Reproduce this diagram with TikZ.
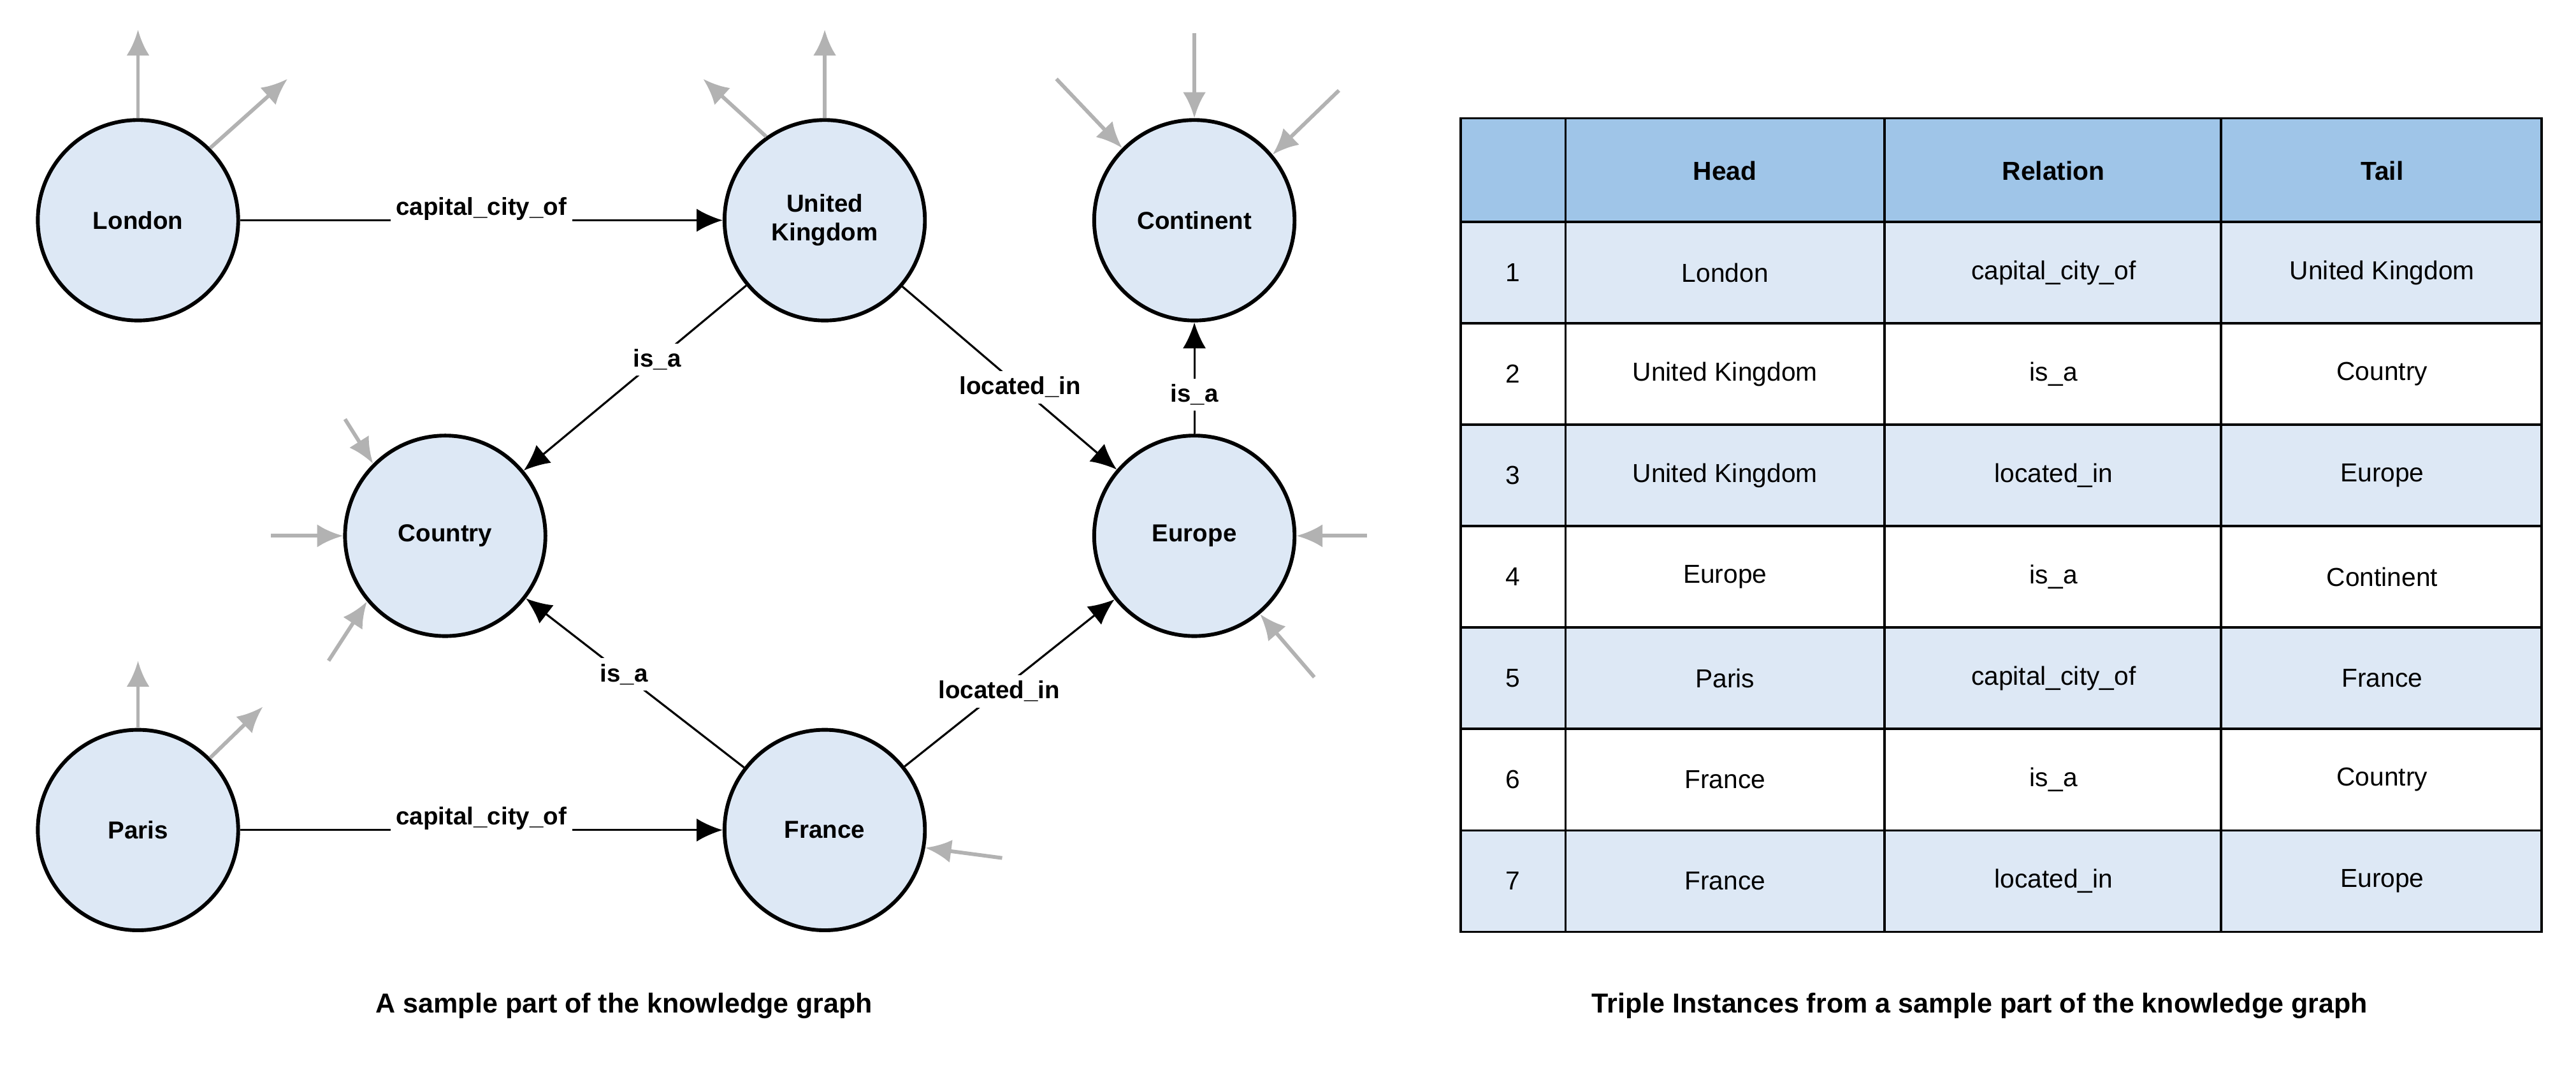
\documentclass[tikz,border=0pt]{standalone}
\usepackage{fontspec}
\setmainfont{Liberation Sans}
\usetikzlibrary{arrows.meta}
\definecolor{nodefill}{HTML}{DDE8F5}
\definecolor{hdr}{HTML}{9FC5E8}
\definecolor{rowa}{HTML}{DDE8F5}
\begin{document}
\begin{tikzpicture}[x=0.02cm,y=-0.02cm,
  ent/.style={circle,draw,line width=1.3pt,fill=nodefill,minimum size=2.44cm,inner sep=0pt,font=\bfseries\fontsize{8.5}{10}\selectfont,align=center},
  rel/.style={draw,line width=0.7pt,-{Latex[length=9pt,width=8pt]}},
  lab/.style={fill=white,inner sep=2pt,font=\bfseries\fontsize{8.5}{10}\selectfont},
  stub/.style={draw=gray!60,line width=1.3pt,-{Latex[length=9pt,width=8pt]},gray!60},
  cell/.style={font=\fontsize{9}{11}\selectfont}]
\useasboundingbox (0,0) rectangle (1568,654);
\node[ent] (lon) at (84,134) {London};
\node[ent] (uk) at (502,134) {United\\Kingdom};
\node[ent] (con) at (727,134) {Continent};
\node[ent] (cty) at (271,326) {Country};
\node[ent] (eur) at (727,326) {Europe};
\node[ent] (par) at (84,505) {Paris};
\node[ent] (fra) at (502,505) {France};
\draw[rel] (lon) -- node[lab,yshift=4pt]{capital\_city\_of} (uk);
\draw[rel] (par) -- node[lab,yshift=4pt]{capital\_city\_of} (fra);
\draw[rel] (uk) -- node[lab,pos=0.4]{is\_a} (cty);
\draw[rel] (uk) -- node[lab,pos=0.55]{located\_in} (eur);
\draw[rel] (eur) -- node[lab,pos=0.35]{is\_a} (con);
\draw[rel] (fra) -- node[lab,pos=0.55]{is\_a} (cty);
\draw[rel] (fra) -- node[lab,pos=0.45]{located\_in} (eur);
% gray stubs
\coordinate (s1) at (84,18); \coordinate (s2) at (175,48);
\draw[stub] (lon.north) -- (s1); \draw[stub] (lon.45) -- (s2);
\coordinate (s3) at (502,18); \coordinate (s4) at (428,48);
\draw[stub] (uk.north) -- (s3); \draw[stub] (uk.125) -- (s4);
\coordinate (s5) at (727,20); \coordinate (s6) at (643,48); \coordinate (s7) at (815,55);
\draw[stub] (s5) -- (con.north); \draw[stub] (s6) -- (con.135); \draw[stub] (s7) -- (con.40);
\coordinate (s8) at (210,255); \coordinate (s9) at (165,326); \coordinate (s10) at (200,402);
\draw[stub] (s8) -- (cty.135); \draw[stub] (s9) -- (cty.west); \draw[stub] (s10) -- (cty.220);
\coordinate (s11) at (832,326); \coordinate (s12) at (800,412);
\draw[stub] (s11) -- (eur.east); \draw[stub] (s12) -- (eur.-50);
\coordinate (s13) at (84,402); \coordinate (s14) at (160,430);
\draw[stub] (par.north) -- (s13); \draw[stub] (par.45) -- (s14);
\coordinate (s15) at (610,522);
\draw[stub] (s15) -- (fra.-10);
% table
\def\xa{889}\def\xb{953}\def\xc{1147}\def\xd{1352}\def\xe{1547}
\fill[hdr] (\xa,72) rectangle (\xe,135);
\foreach \i in {1,3,5,7}{\fill[rowa] (\xa,{135+(\i-1)*61.7}) rectangle (\xe,{135+\i*61.7});}
\foreach \i in {0,...,7}{\draw[line width=0.8pt] (\xa,{135+\i*61.7}) -- (\xe,{135+\i*61.7});}
\draw[line width=0.8pt] (\xa,72) rectangle (\xe,567);
\foreach \x in {\xb,\xc,\xd}{\draw[line width=0.8pt] (\x,72) -- (\x,567);}
\node[cell,font=\bfseries\fontsize{9}{11}\selectfont] (h1) at (1050,104) {Head};
\node[cell,font=\bfseries\fontsize{9}{11}\selectfont] (h2) at (1250,104) {Relation};
\node[cell,font=\bfseries\fontsize{9}{11}\selectfont] (h3) at (1450,104) {Tail};
\foreach \n/\h/\r/\t [count=\i] in {1/London/capital\_city\_of/United Kingdom,2/United Kingdom/is\_a/Country,3/United Kingdom/located\_in/Europe,4/Europe/is\_a/Continent,5/Paris/capital\_city\_of/France,6/France/is\_a/Country,7/France/located\_in/Europe}{
  \node[cell] (n\i) at (921,{135+(\i-0.5)*61.7}) {\n};
  \node[cell] (hh\i) at (1050,{135+(\i-0.5)*61.7}) {\h};
  \node[cell] (rr\i) at (1250,{135+(\i-0.5)*61.7}) {\r};
  \node[cell] (tt\i) at (1450,{135+(\i-0.5)*61.7}) {\t};
}
\node[font=\bfseries\fontsize{9.5}{11}\selectfont] (cap1) at (380,612) {A sample part of the knowledge graph};
\node[font=\bfseries\fontsize{9.5}{11}\selectfont] (cap2) at (1205,612) {Triple Instances from a sample part of the knowledge graph};
\end{tikzpicture}
\end{document}
